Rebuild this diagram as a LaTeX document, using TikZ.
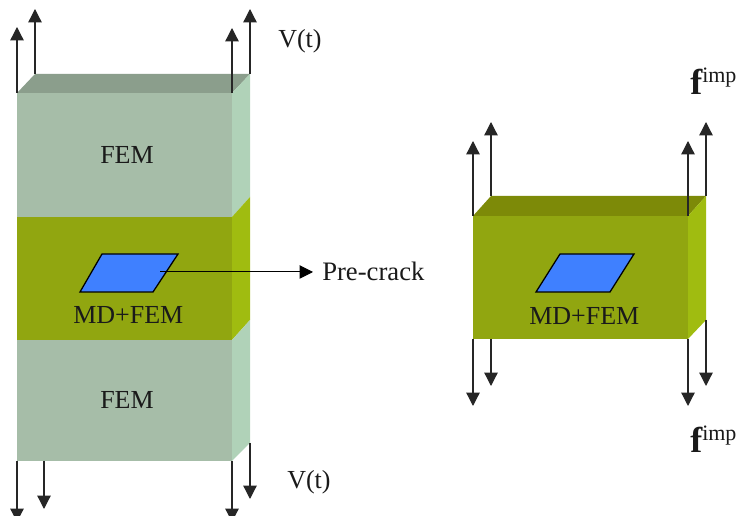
\documentclass[tikz,border=0pt]{standalone}
\usepackage{fontspec}
\setmainfont{Liberation Serif}
\usetikzlibrary{arrows.meta}
\definecolor{femfront}{HTML}{A6BDA8}
\definecolor{femside}{HTML}{B0D2B8}
\definecolor{femtop}{HTML}{8B9E8C}
\definecolor{mdfront}{HTML}{91A610}
\definecolor{mdside}{HTML}{A0BC10}
\definecolor{mdtop}{HTML}{7D8A08}
\definecolor{crack}{HTML}{3F80FF}
\definecolor{inktext}{HTML}{1A1A1A}
\tikzset{
  face/.style={draw=none},
  force/.style={draw=black!85, line width=0.95pt, -{Triangle[width=10pt,length=10pt]}},
  leader/.style={draw=black, line width=0.75pt, -{Triangle[width=10pt,length=10pt]}},
  crackface/.style={fill=crack, draw=black, line width=0.95pt, line join=miter},
  lbl/.style={inner sep=0pt, anchor=base west, text=inktext, font=\fontsize{19.5}{22}\selectfont},
  flbl/.style={inner sep=0pt, anchor=base west, text=inktext}
}
\begin{document}
\begin{tikzpicture}[x=0.75pt,y=-0.75pt]
\clip (0,0) rectangle (740,516);
\fill[white] (0,0) rectangle (740,516);
% left stack
\coordinate (LA) at (17,93);   \coordinate (LB) at (232,93);
\coordinate (LC) at (250,74);  \coordinate (LD) at (35,74);
\coordinate (LE) at (17,461);  \coordinate (LF) at (232,461);
\coordinate (LG) at (250,443);
\fill[face,femtop] (LA) -- (LD) -- (LC) -- (LB) -- cycle;
\fill[face,femfront] (LA) rectangle (232,217);
\fill[face,mdfront] (17,217) rectangle (232,340);
\fill[face,femfront] (17,340) rectangle (LF);
\fill[face,femside] (LB) -- (LC) -- (250,197) -- (232,217) -- cycle;
\fill[face,mdside] (232,217) -- (250,197) -- (250,320) -- (232,340) -- cycle;
\fill[face,femside] (232,340) -- (250,320) -- (LG) -- (LF) -- cycle;
% left crack
\filldraw[crackface] (80,292) -- (153,292) -- (178,254) -- (102,254) -- cycle;
% left labels
\node[lbl] (fem1) at (100,164) {FEM};
\node[lbl] (md1) at (73,324) {MD+FEM};
\node[lbl] (fem2) at (100,409) {FEM};
\node[lbl] (vt1) at (278,48) {V(t)};
\node[lbl] (vt2) at (287,489) {V(t)};
\node[lbl,font=\fontsize{20}{22}\selectfont] (pc) at (322,281) {Pre-crack};
\coordinate (pcs) at (160,272);
\coordinate (pce) at (313,272);
\draw[leader] (pcs) -- (pce);
% left arrows
\coordinate (t1) at (17,27);  \coordinate (t2) at (35,9);
\coordinate (t3) at (232,28); \coordinate (t4) at (250,9);
\coordinate (b1) at (17,522); \coordinate (b2) at (44,509);
\coordinate (b3) at (232,522);\coordinate (b4) at (250,499);
\coordinate (LH) at (44,461);
\draw[force] (LA) -- (t1);
\draw[force] (LD) -- (t2);
\draw[force] (LB) -- (t3);
\draw[force] (LC) -- (t4);
\draw[force] (LE) -- (b1);
\draw[force] (LH) -- (b2);
\draw[force] (LF) -- (b3);
\draw[force] (LG) -- (b4);
% right block
\coordinate (RA) at (473,216); \coordinate (RB) at (688,216);
\coordinate (RC) at (706,196); \coordinate (RD) at (491,196);
\coordinate (RE) at (473,339); \coordinate (RF) at (688,339);
\coordinate (RG) at (706,320); \coordinate (RH) at (491,339);
\fill[face,mdtop] (RA) -- (RD) -- (RC) -- (RB) -- cycle;
\fill[face,mdfront] (RA) rectangle (RF);
\fill[face,mdside] (RB) -- (RC) -- (RG) -- (RF) -- cycle;
\filldraw[crackface] (536,292) -- (610,292) -- (634,254) -- (560,254) -- cycle;
\node[lbl] (md2) at (529,325) {MD+FEM};
\draw[force] (RA) -- (473,141);
\draw[force] (RD) -- (491,122);
\draw[force] (RB) -- (688,141);
\draw[force] (RC) -- (706,122);
\draw[force] (RE) -- (473,406);
\draw[force] (RH) -- (491,386);
\draw[force] (RF) -- (688,406);
\draw[force] (RG) -- (706,386);
% f labels
\node[flbl] (f1) at (690,95) {\fontsize{27}{30}\selectfont\bfseries f\raisebox{9pt}{\fontsize{16.5}{18}\selectfont\mdseries imp}};
\node[flbl] (f2) at (690,453) {\fontsize{27}{30}\selectfont\bfseries f\raisebox{9pt}{\fontsize{16.5}{18}\selectfont\mdseries imp}};
\end{tikzpicture}
\end{document}
